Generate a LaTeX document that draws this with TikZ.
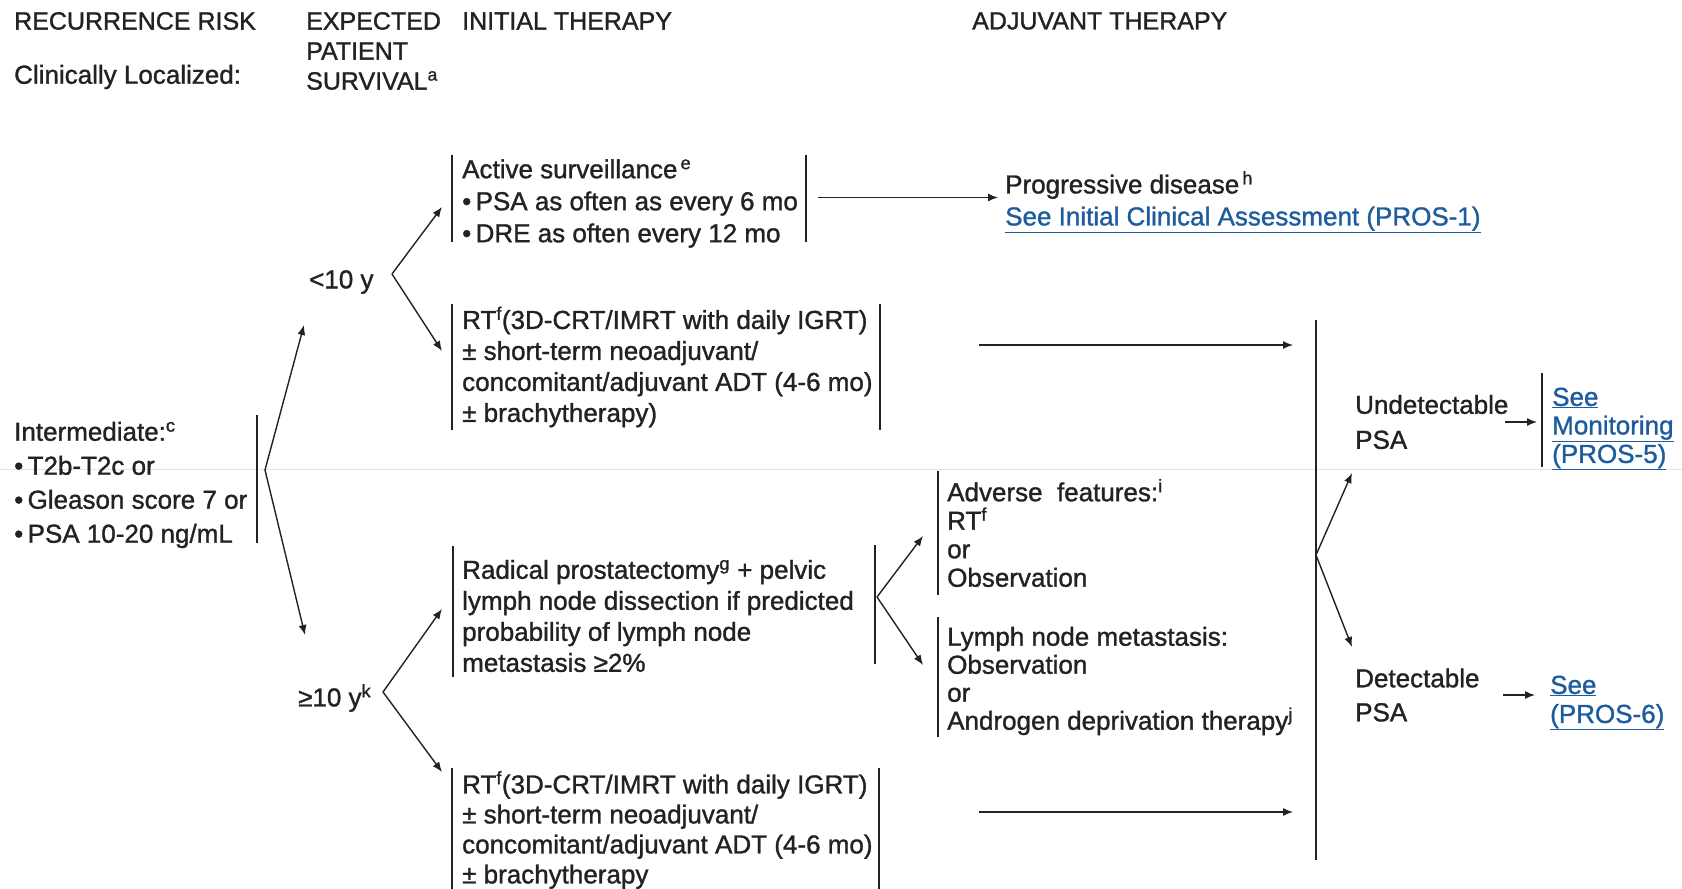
\documentclass[tikz,border=0pt]{standalone}
\usepackage{fontspec}
\setmainfont{Liberation Sans}[FakeBold=1.2]
\usetikzlibrary{arrows.meta}
\definecolor{ink}{HTML}{222222}
\definecolor{linkblue}{HTML}{1F5C9E}
\definecolor{pagerule}{HTML}{DCE6F0}
\newcommand{\lnk}[1]{\textcolor{linkblue}{\underline{#1}}}
\setlength{\lineskiplimit}{-100pt}
\begin{document}
\begin{tikzpicture}[x=1pt,y=-1pt,
                    txt/.style={inner sep=0pt,anchor=west,align=left,text=ink,font=\fontsize{26}{31}\selectfont},
                    head/.style={txt,font=\fontsize{25}{30}\selectfont},
                    box/.style={txt,inner xsep=#1,inner ysep=0pt},
                    box/.default=10pt,
                    bar/.style={draw=ink,line width=1.4pt},
                    arr/.style={draw=ink,line width=1.4pt,-{Latex[length=10pt,width=8pt]}}
                ]
                \useasboundingbox (0,0) rectangle (1682,889);
                \draw[pagerule,line width=0.8pt] (0,469) -- (1682,469);

                \node[head] (hrisk) at (14,21) {RECURRENCE RISK};
                \node[txt] (hloc) at (14,77) {Clinically Localized:};
                \node[head] (hsurv) at (306,51) {EXPECTED\\PATIENT\\SURVIVAL\textsuperscript{a}};
                \node[head] (hinit) at (462,21) {INITIAL THERAPY};
                \node[head] (hadj) at (972,21) {ADJUVANT THERAPY};

                \node[txt,font=\fontsize{26}{34}\selectfont,minimum height=128pt] (risk) at (14,485) {Intermediate:\textsuperscript{c}\\•\,T2b-T2c or\\•\,Gleason score 7 or\\•\,PSA 10-20 ng/mL};
                \draw[bar] ([shift={(243,-6)}]risk.north west) -- ([shift={(243,-6)}]risk.south west);

                \node[txt] (lt10) at (309,282) {<10 y};
                \node[txt] (ge10) at (298,698) {≥10 y\textsuperscript{k}};

                \node[box,font=\fontsize{26}{32}\selectfont,minimum height=86pt] (as) at (452,203.5) {Active surveillance\textsuperscript{\,e}\\•\,PSA as often as every 6 mo\\•\,DRE as often every 12 mo};
                \draw[bar] ([shift={(0,-4)}]as.north west) -- ([shift={(0,-6)}]as.south west);
                \draw[bar] ([shift={(354,-4)}]as.north west) -- ([shift={(354,-6)}]as.south west);

                \node[box,minimum height=125pt] (rt1) at (452,367) {RT\textsuperscript{f}(3D-CRT/IMRT with daily IGRT)\\± short-term neoadjuvant/\\concomitant/adjuvant ADT (4-6 mo)\\± brachytherapy)};
                \draw[bar] (rt1.north west) -- (rt1.south west);
                \draw[bar] ([xshift=428pt]rt1.north west) -- ([xshift=428pt]rt1.south west);

                \node[box=9pt,minimum height=131pt] (rp) at (453,616) {Radical prostatectomy\textsuperscript{g} + pelvic\\lymph node dissection if predicted\\probability of lymph node\\metastasis ≥2\%};
                \draw[bar] ([shift={(0,-4.5)}]rp.north west) -- ([shift={(0,-4.5)}]rp.south west);
                \draw[bar] ([shift={(422,-5)}]rp.north west) -- ([shift={(422,-18)}]rp.south west);

                \node[box,font=\fontsize{26}{30}\selectfont,minimum height=124pt] (rt2) at (452,830) {RT\textsuperscript{f}(3D-CRT/IMRT with daily IGRT)\\± short-term neoadjuvant/\\concomitant/adjuvant ADT (4-6 mo)\\± brachytherapy};
                \draw[bar] (rt2.north west) -- (rt2.south west);
                \draw[bar] ([xshift=427pt]rt2.north west) -- ([xshift=427pt]rt2.south west);

                \node[txt,font=\fontsize{26}{32}\selectfont] (pd) at (1005,202) {Progressive disease\textsuperscript{\,h}\\\lnk{See Initial Clinical Assessment (PROS-1)}};

                \node[box=9pt,font=\fontsize{26}{28.5}\selectfont,minimum height=123pt] (af) at (938,533) {Adverse~ features:\textsuperscript{i}\\RT\textsuperscript{f}\\or\\Observation};
                \draw[bar] (af.north west) -- (af.south west);
                \node[box=9pt,font=\fontsize{26}{28}\selectfont,minimum height=120pt] (ln) at (938,681) {Lymph node metastasis:\\Observation\\or\\Androgen deprivation therapy\textsuperscript{j}};
                \draw[bar] ([shift={(0,-4)}]ln.north west) -- ([shift={(0,-4)}]ln.south west);

                \node[txt,font=\fontsize{26}{35}\selectfont] (ud) at (1355,422) {Undetectable\\PSA};
                \node[txt,font=\fontsize{26}{34}\selectfont] (dt) at (1355,695) {Detectable\\PSA};
                \node[box,font=\fontsize{26}{28.5}\selectfont,minimum height=94pt] (mon) at (1542,429) {\lnk{See}\\\lnk{Monitoring}\\\lnk{(PROS-5)}};
                \draw[bar] ([shift={(0,-9)}]mon.north west) -- ([shift={(0,-9)}]mon.south west);
                \node[txt,font=\fontsize{26}{29}\selectfont] (see6) at (1550,703) {\lnk{See}\\\lnk{(PROS-6)}};

                \coordinate (f0) at (265,470);
                \coordinate (f1) at (392,274);
                \coordinate (f2) at (383,692);
                \coordinate (f3) at (877,597);
                \coordinate (jt) at (1316,320);
                \coordinate (jb) at (1316,860);
                \coordinate (j0) at (1316,555);
                \draw[bar] (jt) -- (jb);

                \draw[arr] (f0) -- ([shift={(-5,43)}]lt10.west);
                \draw[arr] (f0) -- ([shift={(7,-63)}]ge10.west);
                \draw[arr] (f1) -- ([shift={(-10,3.5)}]as.west);
                \draw[arr] (f1) -- ([shift={(-10,-16)}]rt1.west);
                \draw[arr] (f2) -- ([shift={(-11,-7)}]rp.west);
                \draw[arr] (f2) -- ([shift={(-10,-58)}]rt2.west);
                \draw[arr] (f3) -- ([shift={(-15,3)}]af.west);
                \draw[arr] (f3) -- ([shift={(-15,-16)}]ln.west);
                \draw[arr] ([shift={(366,-6)}]as.west) coordinate (s0) -- ([xshift=-7pt]pd.west |- s0);
                \draw[arr,shorten >=23pt] ([shift={(527,-22)}]rt1.west) coordinate (s1) -- (s1 -| jt);
                \draw[arr,shorten >=23pt] ([shift={(527,-18)}]rt2.west) coordinate (s2) -- (s2 -| jt);
                \draw[arr] (j0) -- ([shift={(-3,51)}]ud.west);
                \draw[arr] (j0) -- ([shift={(-3,-48)}]dt.west);
                \draw[arr] ([xshift=150pt]ud.west) -- ([xshift=-5pt]mon.west |- ud.west);
                \draw[arr] ([xshift=148pt]dt.west) -- ([xshift=-15pt]see6.west |- dt.west);
            \end{tikzpicture}
\end{document}
